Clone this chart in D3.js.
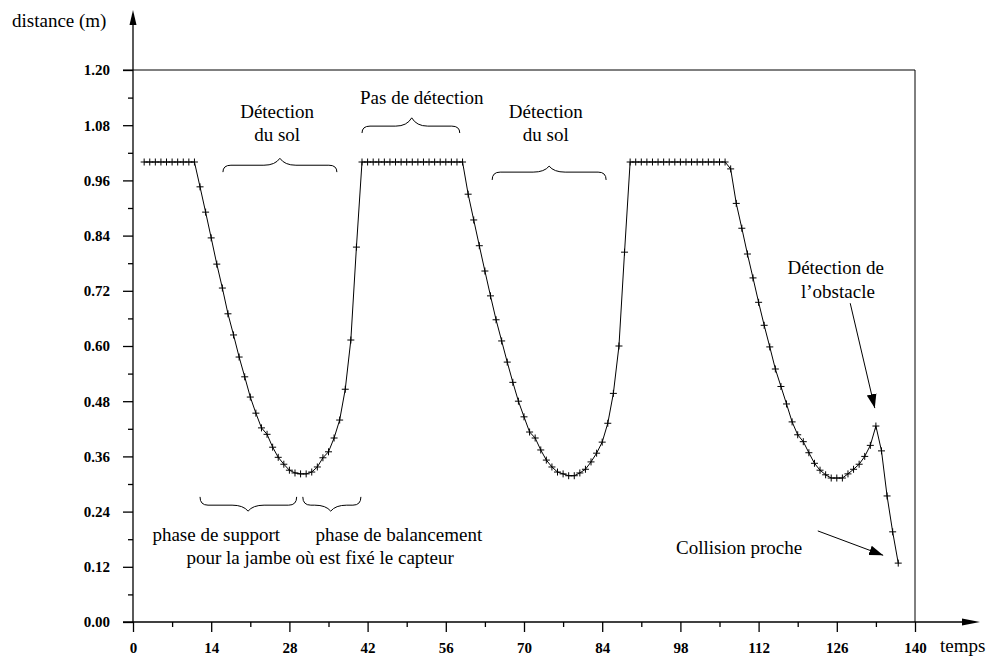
<!DOCTYPE html>
<html><head><meta charset="utf-8">
<script src="https://cdn.jsdelivr.net/npm/d3@7"></script>
<style>body{margin:0;background:#fff}svg{display:block}</style>
</head><body><div id="c"></div>
<script>
const temps = [2,3,4,5,6,7,8,9,10,11,12,13,14,15,16,17,18,19,20,21,22,23,24,25,26,27,28,29,30,31,32,33,34,35,36,37,38,39,40,
41,42,43,44,45,46,47,48,49,50,51,52,53,54,55,56,57,58,59,60,61,62,63,64,65,66,67,68,69,70,71,72,73,74,75,76,77,78,79,80,
81,82,83,84,85,86,87,88,89,90,91,92,93,94,95,96,97,98,99,100,101,102,103,104,105,106,107,108,109,110,111,112,113,114,115,
116,117,118,119,120,121,122,123,124,125,126,127,128,129,130,131,132,133,134,135,136,137];
const distance = [1.00,1.00,1.00,1.00,1.00,1.00,1.00,1.00,1.00,1.00,
0.946,0.891,0.835,0.778,0.726,0.670,0.624,0.576,0.533,0.489,0.454,0.422,0.408,0.380,0.358,0.343,0.330,0.324,0.322,0.322,
0.326,0.337,0.357,0.370,0.400,0.439,0.506,0.613,0.815,
1.00,1.00,1.00,1.00,1.00,1.00,1.00,1.00,1.00,1.00,1.00,1.00,1.00,1.00,1.00,1.00,1.00,1.00,1.00,
0.930,0.874,0.818,0.763,0.709,0.657,0.611,0.565,0.521,0.480,0.446,0.413,0.400,0.374,0.352,0.337,0.326,0.322,0.318,0.318,
0.324,0.332,0.348,0.367,0.391,0.432,0.497,0.600,0.804,
1.00,1.00,1.00,1.00,1.00,1.00,1.00,1.00,1.00,1.00,1.00,1.00,1.00,1.00,1.00,1.00,1.00,1.00,
0.985,0.910,0.856,0.800,0.748,0.695,0.645,0.598,0.550,0.512,0.474,0.435,0.407,0.392,0.368,0.345,0.330,0.320,0.313,0.313,
0.313,0.322,0.332,0.343,0.360,0.384,0.426,0.372,0.274,0.196,0.128];
const xTicks = [0,14,28,42,56,70,84,98,112,126,140];
const yTicks = [0.00,0.12,0.24,0.36,0.48,0.60,0.72,0.84,0.96,1.08,1.20];
const yTickLabels = ["0.00","0.12","0.24","0.36","0.48","0.60","0.72","0.84","0.96","1.08","1.20"];
const axisTitles = ["distance (m)","temps"];
const braceLabels = [["Détection","du sol"],["Pas de détection"],["Détection","du sol"]];
const phaseLabels = ["phase de support","phase de balancement","pour la jambe où est fixé le capteur"];
const eventLabels = [["Détection de","l\u2019obstacle"],["Collision proche"]];

const FONT='"Liberation Serif", "Times New Roman", serif';
const W=989,H=659;
const svg=d3.select("#c").append("svg").attr("width",W).attr("height",H);
const x=d3.scaleLinear().domain([0,140]).range([133,915]);
const y=d3.scaleLinear().domain([0,1.2]).range([622,70]);

const defs=svg.append("defs");
defs.append("marker").attr("id","ah").attr("viewBox","0 0 10 10").attr("refX",10).attr("refY",5)
 .attr("markerWidth",14).attr("markerHeight",14).attr("markerUnits","userSpaceOnUse").attr("orient","auto")
 .append("path").attr("d","M0,1.5L10,5L0,8.5Z").attr("fill","#000");

// frame (top and right)
svg.append("path").attr("d",`M${x(0)-10},${y(1.2)}H${x(140)}V${y(0)}`).attr("fill","none").attr("stroke","#000").attr("stroke-width",1);

// y axis
const yAx=d3.axisLeft(y).tickValues(yTicks).tickFormat((d,i)=>yTickLabels[i]).tickSize(10).tickPadding(13);
const gy=svg.append("g").attr("transform",`translate(${x(0)},0)`).call(yAx);
gy.select(".domain").remove();
gy.selectAll("text").style("font-size","15px").style("font-weight","bold").style("font-family",FONT);
const yMinor=d3.axisLeft(y).tickValues(yTicks.slice(0,-1).map(d=>d+0.06)).tickFormat("").tickSize(5);
const gym=svg.append("g").attr("transform",`translate(${x(0)},0)`).call(yMinor);
gym.select(".domain").remove();
svg.append("line").attr("x1",x(0)).attr("x2",x(0)).attr("y1",y(0)).attr("y2",24).attr("stroke","#000").attr("stroke-width",1.3);
svg.append("path").attr("d",`M${x(0)},10L${x(0)-3.5},25L${x(0)+3.5},25Z`).attr("fill","#000");

// x axis
const xAx=d3.axisBottom(x).tickValues(xTicks).tickSize(10).tickPadding(10);
const gx=svg.append("g").attr("transform",`translate(0,${y(0)})`).call(xAx);
gx.select(".domain").remove();
gx.selectAll("text").style("font-size","15px").style("font-weight","bold").style("font-family",FONT);
const xMinor=d3.axisBottom(x).tickValues(xTicks.slice(0,-1).map(d=>d+7)).tickFormat("").tickSize(5);
const gxm=svg.append("g").attr("transform",`translate(0,${y(0)})`).call(xMinor);
gxm.select(".domain").remove();
svg.append("line").attr("x1",x(0)-10).attr("x2",966).attr("y1",y(0)).attr("y2",y(0)).attr("stroke","#000").attr("stroke-width",1.3);
svg.append("path").attr("d",`M980,${y(0)}L962,${y(0)-3.5}L962,${y(0)+3.5}Z`).attr("fill","#000");
svg.selectAll(".tick line").attr("stroke","#000").attr("stroke-width",1.3);

const label=(px,py,str,anchor)=>svg.append("text").attr("x",px).attr("y",py).attr("text-anchor",anchor||"start")
 .style("font-family",FONT).style("font-size","19px").style("fill","#000").text(str);
label(12,27,axisTitles[0]);
label(940,652,axisTitles[1]);

// data line
const pts=temps.map((t,i)=>[t,distance[i]]);
svg.append("path").datum(pts).attr("fill","none").attr("stroke","#000").attr("stroke-width",1)
 .attr("d",d3.line().x(d=>x(d[0])).y(d=>y(d[1])));
const s=3.5;
svg.append("g").selectAll("path").data(pts).join("path")
 .attr("d",d=>`M${x(d[0])-s},${y(d[1])}H${x(d[0])+s}M${x(d[0])},${y(d[1])-s}V${y(d[1])+s}`)
 .attr("stroke","#000").attr("stroke-width",1);

// braces
function brace(t1,t2,tm,vEnd,vArm,vTip){
 const x1=x(t1),x2=x(t2),xm=x(tm),ye=y(vEnd),ya=y(vArm),yt=y(vTip);
 const q=8;
 return `M${x1},${ye}Q${x1},${ya} ${x1+q},${ya}L${xm-q*2},${ya}Q${xm-q*0.6},${ya} ${xm},${yt}Q${xm+q*0.6},${ya} ${xm+q*2},${ya}L${x2-q},${ya}Q${x2},${ya} ${x2},${ye}`;
}
const braces=[[16.1,36.5,26.3,0.978,0.993,1.008],[41,58.5,49.9,1.063,1.078,1.096],[64.3,84.7,74.5,0.961,0.978,0.991],
 [12,29.3,20.6,0.272,0.254,0.241],[30.4,40.8,35.4,0.272,0.254,0.241]];
svg.append("g").selectAll("path").data(braces).join("path").attr("d",d=>brace(...d))
 .attr("fill","none").attr("stroke","#000").attr("stroke-width",1);

const txt=(t,v,str)=>label(x(t),y(v),str,"middle");
txt(25.8,1.096,braceLabels[0][0]); txt(25.8,1.046,braceLabels[0][1]);
txt(51.7,1.127,braceLabels[1][0]);
txt(73.9,1.096,braceLabels[2][0]); txt(73.9,1.046,braceLabels[2][1]);
txt(14.9,0.176,phaseLabels[0]); txt(47.6,0.176,phaseLabels[1]);
txt(33.5,0.126,phaseLabels[2]);
txt(125.8,0.756,eventLabels[0][0]); txt(126.2,0.704,eventLabels[0][1]);
txt(108.5,0.148,eventLabels[1][0]);

// arrows
svg.append("line").attr("x1",x(128.4)).attr("y1",y(0.693)).attr("x2",x(132.8)).attr("y2",y(0.465))
 .attr("stroke","#000").attr("stroke-width",1).attr("marker-end","url(#ah)");
svg.append("line").attr("x1",x(122.6)).attr("y1",y(0.198)).attr("x2",x(134.3)).attr("y2",y(0.145))
 .attr("stroke","#000").attr("stroke-width",1).attr("marker-end","url(#ah)");
</script></body></html>
